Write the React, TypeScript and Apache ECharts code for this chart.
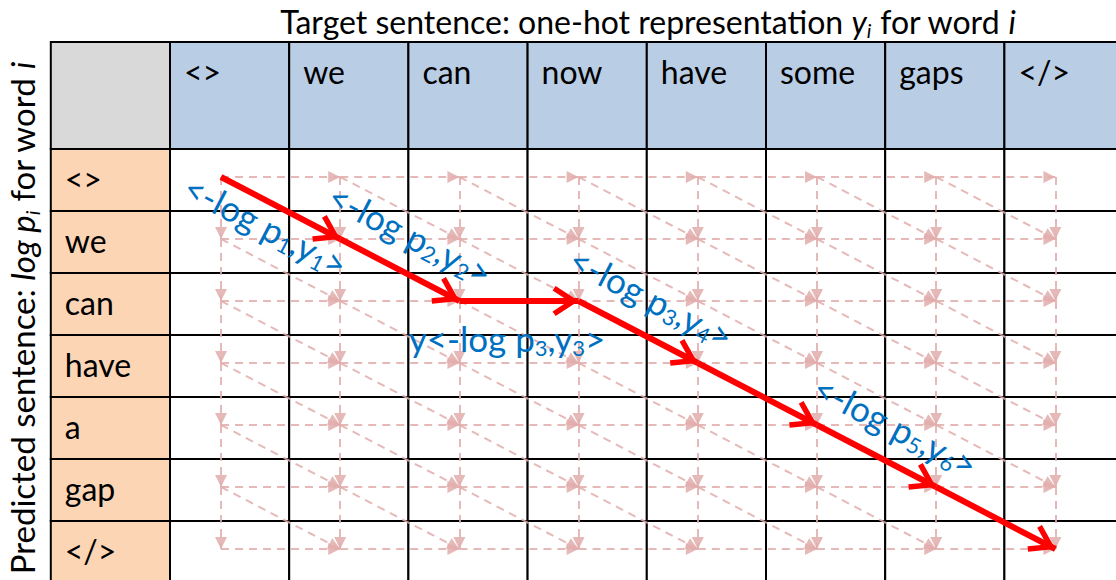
import React, { useEffect, useRef } from 'react';
import * as echarts from 'echarts';

// ---------------- data ----------------
const targetWords = ['<>', 'we', 'can', 'now', 'have', 'some', 'gaps', '</>'];
const predictedWords = ['<>', 'we', 'can', 'have', 'a', 'gap', '</>'];
// best alignment path through the lattice: [target index, predicted index]
const alignmentPath = [
  [0, 0], [1, 1], [2, 2], [3, 2], [4, 3], [5, 4], [6, 5], [7, 6],
];
// cost labels: which path segment they belong to, and their text
const costSegments = [0, 1, 2, 3, 5];
const costTexts = [
  '{t|<-log p}{s|1}{t|,y}{s|1}{t|>}',
  '{t|<-log p}{s|2}{t|,y}{s|2}{t|>}',
  '{t|y<-log p}{s|3}{t|,y}{s|3}{t|>}',
  '{t|<-log p}{s|3}{t|,y}{s|4}{t|>}',
  '{t|<-log p}{s|5}{t|,y}{s|6}{t|>}',
];
const titleText = '{n|Target sentence: one-hot representation }{i|y}{si|i}{n| for word }{i|i}';
const sideTitleText = '{n|Predicted sentence: }{i|log p}{si|i}{n| for word }{i|i}';

// ---------------- layout / style ----------------
const FONT = 'Lato';
const X_MIN = -170 / 119.2;
const X_MAX = (1116 - 170) / 119.2;
const Y_MIN = -149 / 62;
const Y_MAX = (580 - 149) / 62;
const HEADER_TOP = (42 - 149) / 62;
const NODE_DX = 0.428;
const NODE_DY = 0.452;
// [along, normal] pixel offsets of each cost label from its segment's midpoint
const LABEL_OFFSETS = [[-5, 22], [-7, -37], [-12, 37], [-4, -37], [3, -36]];
const BLUE = '#0070c0';
const RED = '#ff0000';
const PINK = '#e2adad';

const PINK_ARROW = 'path://M0 0 L6 12 L-6 12 Z M-12 -12 L-11.9 -12 Z M12 12 L11.9 12 Z';
const RED_ARROW =
  'path://M0 0 L15 23 L10.5 26 L0 10 L-10.5 26 L-15 23 Z M-26 -26 L-25.9 -26 Z M26 26 L25.9 26 Z';

type Cell = { x0: number; y0: number; x1: number; y1: number; fill: string; text: string; kind: string };

function buildCells(): Cell[] {
  const cells: Cell[] = [];
  cells.push({ x0: -1, y0: HEADER_TOP, x1: 0, y1: 0, fill: '#d9d9d9', text: '', kind: 'corner' });
  targetWords.forEach((w, j) =>
    cells.push({ x0: j, y0: HEADER_TOP, x1: j + 1, y1: 0, fill: '#b9cde5', text: w, kind: 'col' })
  );
  predictedWords.forEach((w, i) =>
    cells.push({ x0: -1, y0: i, x1: 0, y1: i + 1, fill: '#fcd5b5', text: w, kind: 'row' })
  );
  predictedWords.forEach((_, i) =>
    targetWords.forEach((__, j) =>
      cells.push({ x0: j, y0: i, x1: j + 1, y1: i + 1, fill: '#ffffff', text: '', kind: 'body' })
    )
  );
  return cells;
}

const node = (j: number, i: number) => [j + NODE_DX, i + NODE_DY];

function buildLattice() {
  const edges: number[][][] = [];
  const nr = predictedWords.length;
  const nc = targetWords.length;
  for (let i = 0; i < nr; i++) {
    for (let j = 0; j < nc; j++) {
      if (j < nc - 1) edges.push([node(j, i), node(j + 1, i)]);
      if (i < nr - 1) edges.push([node(j, i), node(j, i + 1)]);
      if (i < nr - 1 && j < nc - 1) edges.push([node(j, i), node(j + 1, i + 1)]);
    }
  }
  return edges;
}

const mainRich = (size: number) => ({
  n: { fontSize: size, fontFamily: FONT, fill: '#000', color: '#000', lineHeight: size + 6 },
  i: { fontSize: size, fontFamily: FONT, fontStyle: 'italic', fill: '#000', color: '#000', lineHeight: size + 6 },
  si: {
    fontSize: Math.round(size * 0.62), fontFamily: FONT, fontStyle: 'italic', fill: '#000', color: '#000',
    lineHeight: 14, verticalAlign: 'bottom',
  },
});

export default function App() {
  const ref = useRef<HTMLDivElement>(null);
  useEffect(() => {
    document.body.style.margin = '0';
    const chart = echarts.init(ref.current!, null, { renderer: 'svg' });
    const cells = buildCells();
    const lattice = buildLattice();
    const redSegs: number[][][] = [];
    for (let k = 0; k < alignmentPath.length - 1; k++) {
      redSegs.push([node(alignmentPath[k][0], alignmentPath[k][1]), node(alignmentPath[k + 1][0], alignmentPath[k + 1][1])]);
    }

    chart.setOption({
      animation: false,
      grid: { left: 0, right: 0, top: 0, bottom: 0 },
      xAxis: { type: 'value', min: X_MIN, max: X_MAX, show: false },
      yAxis: { type: 'value', min: Y_MIN, max: Y_MAX, inverse: true, show: false },
      graphic: [
        {
          type: 'text', x: 648, y: 21, z: 10,
          style: { text: titleText, rich: mainRich(32), align: 'center', verticalAlign: 'middle' },
        },
        {
          type: 'text', x: 22, y: 318, rotation: Math.PI / 2, z: 10,
          style: { text: sideTitleText, rich: mainRich(33), align: 'center', verticalAlign: 'middle' },
        },
      ],
      series: [
        {
          type: 'custom',
          z: 1,
          silent: true,
          data: cells.map((c) => [c.x0, c.y0, c.x1, c.y1]),
          encode: { x: [0, 2], y: [1, 3] },
          renderItem: (params: any, api: any) => {
            const c = cells[params.dataIndex];
            const p0 = api.coord([c.x0, c.y0]);
            const p1 = api.coord([c.x1, c.y1]);
            const children: any[] = [
              {
                type: 'rect',
                shape: { x: p0[0], y: p0[1], width: p1[0] - p0[0], height: p1[1] - p0[1] },
                style: { fill: c.fill, stroke: '#000', lineWidth: 2 },
              },
            ];
            if (c.text) {
              children.push({
                type: 'text',
                x: p0[0] + 14,
                y: c.kind === 'col' ? p0[1] + 29 : (p0[1] + p1[1]) / 2 - 2,
                style: {
                  text: c.text, fill: '#000', fontSize: 32, fontFamily: FONT,
                  align: 'left', verticalAlign: 'middle',
                },
              });
            }
            return { type: 'group', children };
          },
        },
        {
          type: 'lines',
          coordinateSystem: 'cartesian2d',
          z: 3,
          silent: true,
          symbol: ['none', PINK_ARROW],
          symbolSize: 24,
          lineStyle: { color: PINK, width: 2, type: [8, 6], opacity: 0.85, curveness: 0 },
          data: lattice.map((e) => ({ coords: e })),
        },
        {
          type: 'lines',
          coordinateSystem: 'cartesian2d',
          z: 4,
          silent: true,
          symbol: ['none', RED_ARROW],
          symbolSize: 52,
          lineStyle: { color: RED, width: 6, opacity: 1, curveness: 0 },
          data: redSegs.map((e) => ({ coords: e })),
        },
        {
          type: 'custom',
          z: 5,
          silent: true,
          data: costSegments.map((s) => node(alignmentPath[s][0], alignmentPath[s][1])),
          encode: { x: 0, y: 1 },
          renderItem: (params: any, api: any) => {
            const k = params.dataIndex;
            const s = costSegments[k];
            const a = api.coord(node(alignmentPath[s][0], alignmentPath[s][1]));
            const b = api.coord(node(alignmentPath[s + 1][0], alignmentPath[s + 1][1]));
            const dx = b[0] - a[0];
            const dy = b[1] - a[1];
            const len = Math.sqrt(dx * dx + dy * dy);
            const d = [dx / len, dy / len];
            const n = [-d[1], d[0]];
            const [along, normal] = LABEL_OFFSETS[k];
            const cx = (a[0] + b[0]) / 2 + along * d[0] + normal * n[0];
            const cy = (a[1] + b[1]) / 2 + along * d[1] + normal * n[1];
            return {
              type: 'text',
              x: cx,
              y: cy,
              rotation: -Math.atan2(dy, dx),
              style: {
                text: costTexts[k],
                align: 'center',
                verticalAlign: 'middle',
                rich: {
                  t: { fontSize: 35, fontFamily: FONT, fill: BLUE, color: BLUE, lineHeight: 40 },
                  s: { fontSize: 22, fontFamily: FONT, fill: BLUE, color: BLUE, lineHeight: 16, verticalAlign: 'bottom' },
                },
              },
            };
          },
        },
      ],
    });
    return () => chart.dispose();
  }, []);
  return <div ref={ref} style={{ position: 'absolute', left: 0, top: 0, width: 1116, height: 580 }} />;
}
